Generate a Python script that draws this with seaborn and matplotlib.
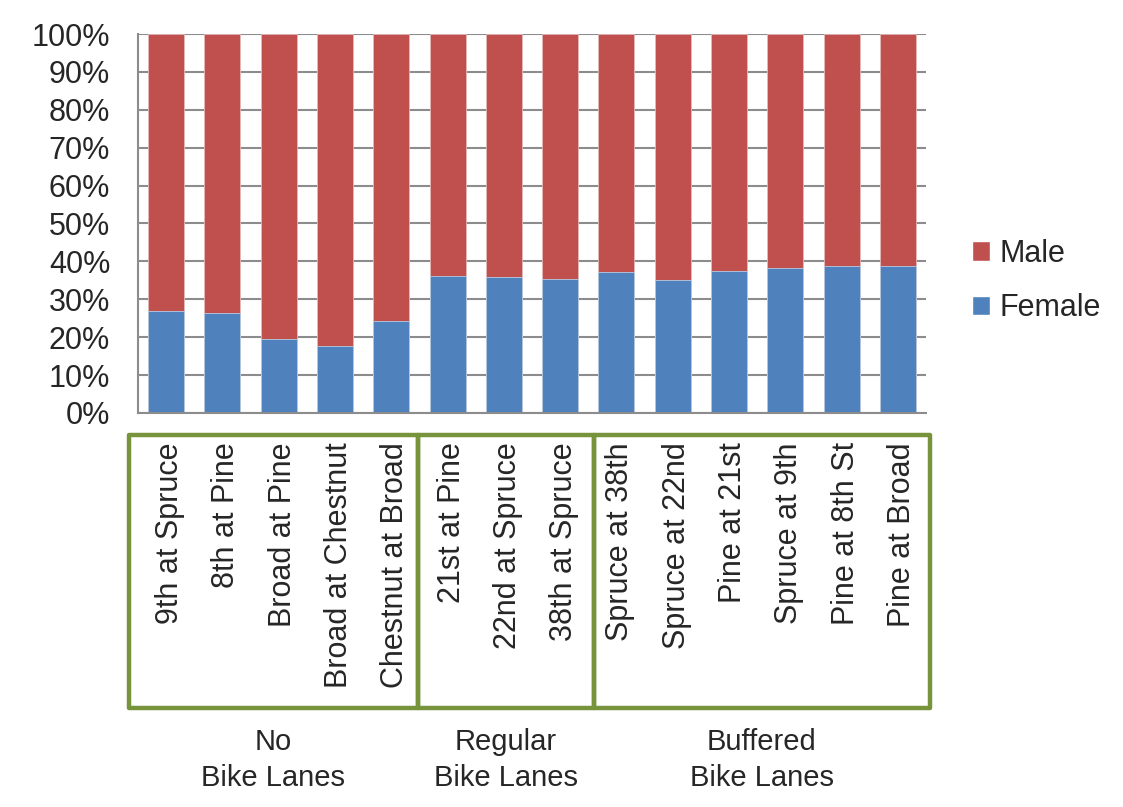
import matplotlib
matplotlib.use("Agg")
import matplotlib.pyplot as plt
from matplotlib.patches import Rectangle, Patch
from matplotlib.transforms import ScaledTranslation
import seaborn as sns
import pandas as pd

# Intersections observed, grouped by bike-lane type
locations = [
    "9th at Spruce", "8th at Pine", "Broad at Pine", "Broad at Chestnut",
    "Chestnut at Broad", "21st at Pine", "22nd at Spruce", "38th at Spruce",
    "Spruce at 38th", "Spruce at 22nd", "Pine at 21st", "Spruce at 9th",
    "Pine at 8th St", "Pine at Broad",
]
female_pct = [26.9, 26.4, 19.5, 17.6, 24.3, 36.2, 36.0, 35.3,
              37.2, 35.1, 37.5, 38.2, 38.7, 38.7]
male_pct = [73.1, 73.6, 80.5, 82.4, 75.7, 63.8, 64.0, 64.7,
            62.8, 64.9, 62.5, 61.8, 61.3, 61.3]
groups = ["No\nBike Lanes", "Regular\nBike Lanes", "Buffered\nBike Lanes"]
group_sizes = [5, 3, 6]
yticks = [0, 10, 20, 30, 40, 50, 60, 70, 80, 90, 100]

BLUE = "#4F81BD"
RED = "#C0504D"
GREEN = "#77933C"
FONT = "Liberation Sans"

sns.set_style("white")
plt.rcParams["font.family"] = [FONT, "DejaVu Sans"]

df = pd.DataFrame({
    "location": locations,
    "female": female_pct,
    "total": [f + m for f, m in zip(female_pct, male_pct)],
})

W, H = 1123, 807
fig = plt.figure(figsize=(W / 100, H / 100), dpi=100)
ax = fig.add_axes([138 / W, 1 - 413 / H, (926 - 138) / W, (413 - 34) / H])

sns.barplot(data=df, x="location", y="total", color=RED, width=0.64,
            saturation=1, ax=ax, edgecolor="#E6B9B8", linewidth=0.6)
sns.barplot(data=df, x="location", y="female", color=BLUE, width=0.64,
            saturation=1, ax=ax, edgecolor="#B9CDE5", linewidth=0.6)

ax.set_xlim(-0.5, len(locations) - 0.5)
ax.set_ylim(0, 100)
ax.set_yticks(yticks)
ax.set_yticklabels([f"{v}%" for v in yticks], fontsize=22)
ax.set_xticks(range(len(locations)))
ax.set_xticklabels(locations, rotation=90, fontsize=22, va="top")
ax.set_xlabel("")
ax.set_ylabel("")
ax.tick_params(axis="x", length=0, pad=21)
ax.tick_params(axis="y", length=0, pad=20)

# nudge the vertical labels so they sit centred under each bar
shift = ScaledTranslation(4 / 100, 0, fig.dpi_scale_trans)
for lbl in ax.get_xticklabels():
    lbl.set_transform(lbl.get_transform() + shift)

ax.yaxis.grid(True, color="#8C8C8C", linewidth=1.5)
ax.set_axisbelow(True)
for side in ("top", "right"):
    ax.spines[side].set_visible(False)
for side in ("left", "bottom"):
    ax.spines[side].set_color("#8C8C8C")
    ax.spines[side].set_linewidth(1.5)

# Group boxes beneath the axis labels
edges_px = [128.5, 418, 593.5, 930]
box_top, box_bottom = 435, 708
for i, name in enumerate(groups):
    x0, x1 = edges_px[i], edges_px[i + 1]
    fig.patches.append(Rectangle(
        (x0 / W, 1 - box_bottom / H), (x1 - x0) / W, (box_bottom - box_top) / H,
        transform=fig.transFigure, fill=False, edgecolor=GREEN, linewidth=3.2,
        joinstyle="round"))
    fig.text((x0 + x1) / 2 / W, 1 - 760 / H, name, ha="center", va="center",
             fontsize=21, linespacing=1.33)

handles = [Patch(facecolor=RED, label="Male"), Patch(facecolor=BLUE, label="Female")]
fig.legend(handles=handles, loc="center left", bbox_to_anchor=(972 / W, 1 - 281 / H),
           frameon=False, fontsize=22, handlelength=0.6, handleheight=0.6,
           handletextpad=0.3, labelspacing=0.8, borderpad=0, borderaxespad=0)

fig.savefig("out.png", dpi=100)
